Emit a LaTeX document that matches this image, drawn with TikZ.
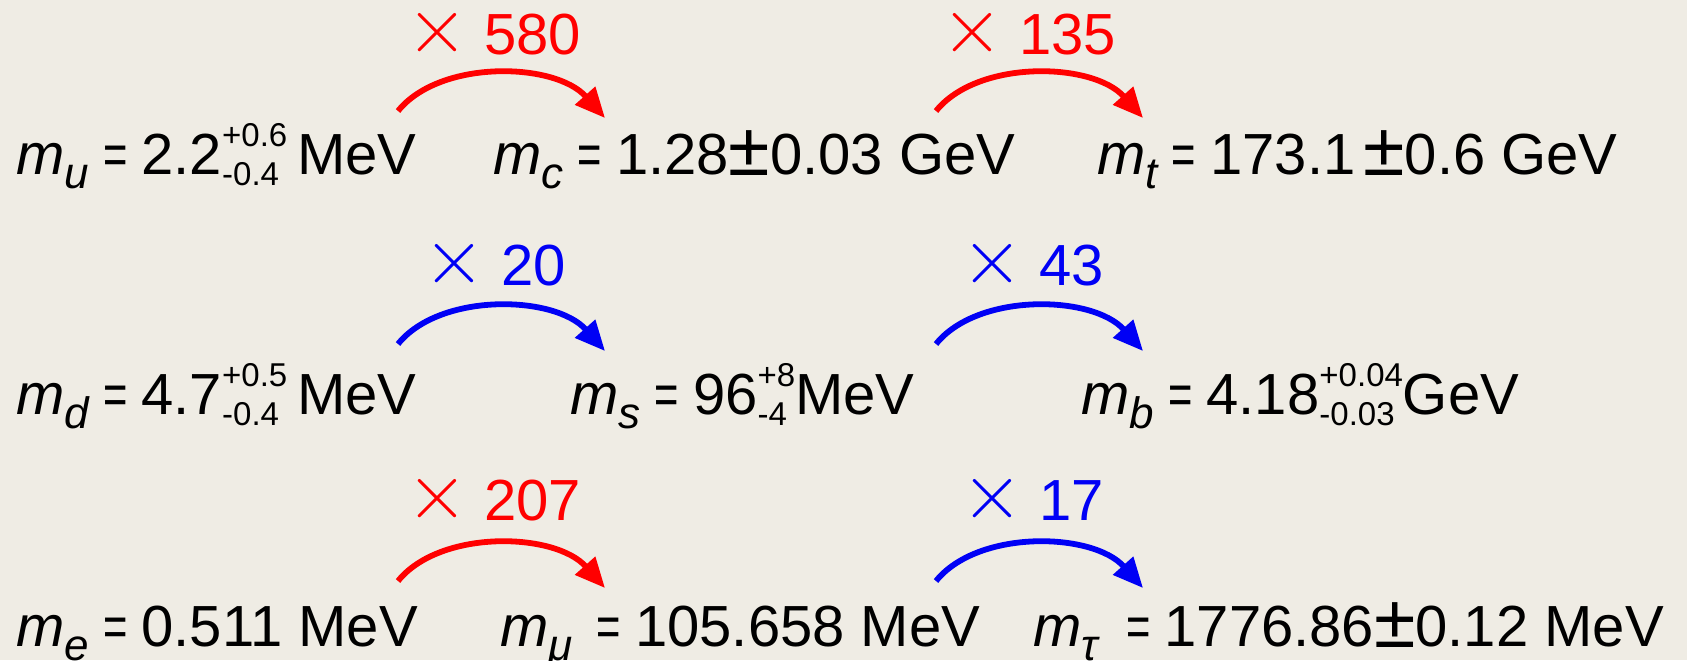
\documentclass[tikz,border=0pt]{standalone}
\usepackage{fontspec}
\setmainfont{Liberation Sans}
\usetikzlibrary{arrows.meta}
\definecolor{bg}{HTML}{EFECE4}
\definecolor{myred}{RGB}{255,0,0}
\definecolor{myblue}{RGB}{0,0,245}
\newcommand\mq[1]{\textit{m}\raisebox{-7pt}{\fontsize{22}{22}\selectfont\itshape #1}}
\newcommand\ud[2]{{\fontsize{16.5}{16.5}\selectfont\ooalign{\raisebox{14pt}{#1}\cr\raisebox{-5.5pt}{#2}\cr}}}
\newcommand\tms{\raisebox{0.6pt}{\scalebox{1.6}{$\times$}}}
\newcommand\pmx{\raisebox{-0.5pt}{\scalebox{1.3}{±}}}
\newcommand\eqs{\hspace{7pt}\scalebox{0.72}[1]{=}\hspace{7pt}}
\tikzset{
  val/.style={anchor=base west, inner sep=0pt, font=\fontsize{29}{29}\selectfont},
  fac/.style={anchor=base west, inner sep=0pt, font=\fontsize{29}{29}\selectfont},
  arr/.style={line width=2.9pt, -{Triangle[length=15pt,width=13pt]}},
}
\begin{document}
\begin{tikzpicture}[x=0.5pt,y=-0.5pt]
\useasboundingbox[fill=bg] (0,0) rectangle (1687,660);
% row 1
\node[val] (mu) at (16,174) {\mq{u}\eqs 2.2\ud{+0.6}{-0.4}\hspace{5pt}MeV};
\node[val] (mc) at (493,174) {\mq{c}\eqs 1.28\pmx0.03 GeV};
\node[val] (mt) at (1097,174) {\mq{t}\eqs 173.1\hspace{4pt}\pmx0.6 GeV};
% row 2
\node[val] (md) at (16,414) {\mq{d}\eqs 4.7\ud{+0.5}{-0.4}\hspace{5pt}MeV};
\node[val] (ms) at (570,414) {\mq{s}\eqs 96\ud{+8}{-4}MeV};
\node[val] (mb) at (1081,414) {\mq{b}\eqs 4.18\ud{+0.04}{-0.03}GeV};
% row 3
\node[val] (me) at (16,646) {\mq{e}\eqs 0.511 MeV};
\node[val] (mmu) at (500,646) {\mq{μ}\hspace{5pt}\eqs 105.658 MeV};
\node[val] (mtau) at (1033,646) {\mq{τ}\hspace{7pt}\eqs 1776.86\pmx0.12 MeV};
% factors
\node[fac, text=myred] (f1) at (406,54) {\tms{} 580};
\node[fac, text=myred] (f2) at (941,54) {\tms{} 135};
\node[fac, text=myblue] (f3) at (423,285) {\tms{} 20};
\node[fac, text=myblue] (f4) at (961,285) {\tms{} 43};
\node[fac, text=myred] (f5) at (406,520) {\tms{} 207};
\node[fac, text=myblue] (f6) at (961,520) {\tms{} 17};
% arrow ends
\coordinate (a1s) at (398,111); \coordinate (a1e) at (605,118);
\coordinate (a2s) at (936,111); \coordinate (a2e) at (1143,118);
\coordinate (b1s) at (398,344); \coordinate (b1e) at (605,351);
\coordinate (b2s) at (936,344); \coordinate (b2e) at (1143,351);
\coordinate (c1s) at (398,581); \coordinate (c1e) at (605,588);
\coordinate (c2s) at (936,581); \coordinate (c2e) at (1143,588);
\draw[arr, myred] (a1s) .. controls +(42,-52) and +(-50,-56) .. (a1e);
\draw[arr, myred] (a2s) .. controls +(42,-52) and +(-50,-56) .. (a2e);
\draw[arr, myblue] (b1s) .. controls +(42,-52) and +(-50,-56) .. (b1e);
\draw[arr, myblue] (b2s) .. controls +(42,-52) and +(-50,-56) .. (b2e);
\draw[arr, myred] (c1s) .. controls +(42,-52) and +(-50,-56) .. (c1e);
\draw[arr, myblue] (c2s) .. controls +(42,-52) and +(-50,-56) .. (c2e);
\end{tikzpicture}
\end{document}
